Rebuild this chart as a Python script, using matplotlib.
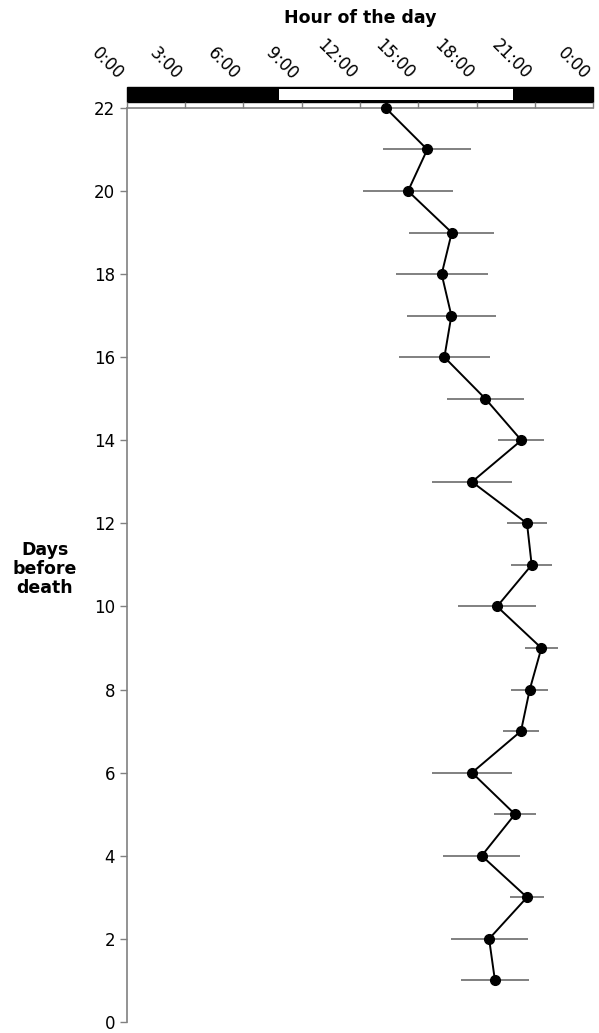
import matplotlib
matplotlib.use('Agg')
import matplotlib.pyplot as plt
import matplotlib.transforms as mtransforms
from matplotlib.patches import Rectangle

plt.rcParams['font.family'] = ['DejaVu Sans']

# Mean hour of activity per day before death, with spread (hours)
days = [22, 21, 20, 19, 18, 17, 16, 15, 14, 13, 12, 11, 10, 9, 8, 7, 6, 5, 4, 3, 2, 1]
mean_hour = [13.32, 15.46, 14.47, 16.72, 16.2, 16.7, 16.34, 18.45, 20.3, 17.76, 20.59,
             20.83, 19.05, 21.33, 20.73, 20.28, 17.76, 19.97, 18.26, 20.59, 18.64, 18.94]
err_hour = [0.0, 2.27, 2.33, 2.19, 2.37, 2.27, 2.34, 2.0, 1.18, 2.06, 1.03,
            1.05, 2.0, 0.85, 0.95, 0.95, 2.06, 1.1, 1.98, 0.87, 1.98, 1.75]

hour_ticks = [0, 3, 6, 9, 12, 15, 18, 21, 24]
hour_labels = ['0:00', '3:00', '6:00', '9:00', '12:00', '15:00', '18:00', '21:00', '0:00']
day_ticks = [0, 2, 4, 6, 8, 10, 12, 14, 16, 18, 20, 22]
light_start, light_end = 7.85, 19.85

GRAY = '#808080'

fig = plt.figure(figsize=(5.99, 10.33), dpi=100)
ax = fig.add_axes([0.2115, 0.0107, 0.779, 0.8848])

ax.errorbar(mean_hour, days, xerr=err_hour, fmt='none', ecolor=GRAY,
            elinewidth=1.4, capsize=0, zorder=2, clip_on=False)
ax.plot(mean_hour, days, color='black', lw=1.4, marker='o', markersize=7,
        zorder=3, clip_on=False)

ax.set_xlim(0, 24)
ax.set_ylim(0, 22)

ax.spines['right'].set_visible(False)
ax.spines['bottom'].set_visible(False)
ax.spines['left'].set_color(GRAY)
ax.spines['top'].set_color(GRAY)
ax.spines['left'].set_linewidth(1.2)
ax.spines['top'].set_linewidth(1.2)

ax.xaxis.tick_top()
ax.set_xticks(hour_ticks)
ax.set_xticklabels(hour_labels, rotation=-45, ha='right', fontsize=12)
ax.tick_params(axis='x', direction='out', length=4, color=GRAY, width=1, pad=14)
ax.set_yticks(day_ticks)
ax.tick_params(axis='y', direction='out', length=5, color=GRAY, width=1, labelsize=12)

# light/dark bar above the hour axis
trans = mtransforms.blended_transform_factory(ax.transData, ax.transAxes)
ax.add_patch(Rectangle((0, 1.0069), 24, 0.0157, transform=trans, facecolor='black',
                       edgecolor='black', clip_on=False))
ax.add_patch(Rectangle((light_start, 1.0085), light_end - light_start, 0.0125, transform=trans,
                       facecolor='white', edgecolor='none', clip_on=False))

fig.text(360 / 599, 1 - 18 / 1033, 'Hour of the day', ha='center', va='center',
         fontsize=12.5, fontweight='bold')
fig.text(45 / 599, 1 - 569 / 1033, 'Days\nbefore\ndeath', ha='center', va='center',
         fontsize=12.5, fontweight='bold', linespacing=1.1)

fig.savefig('out.png', dpi=100)
